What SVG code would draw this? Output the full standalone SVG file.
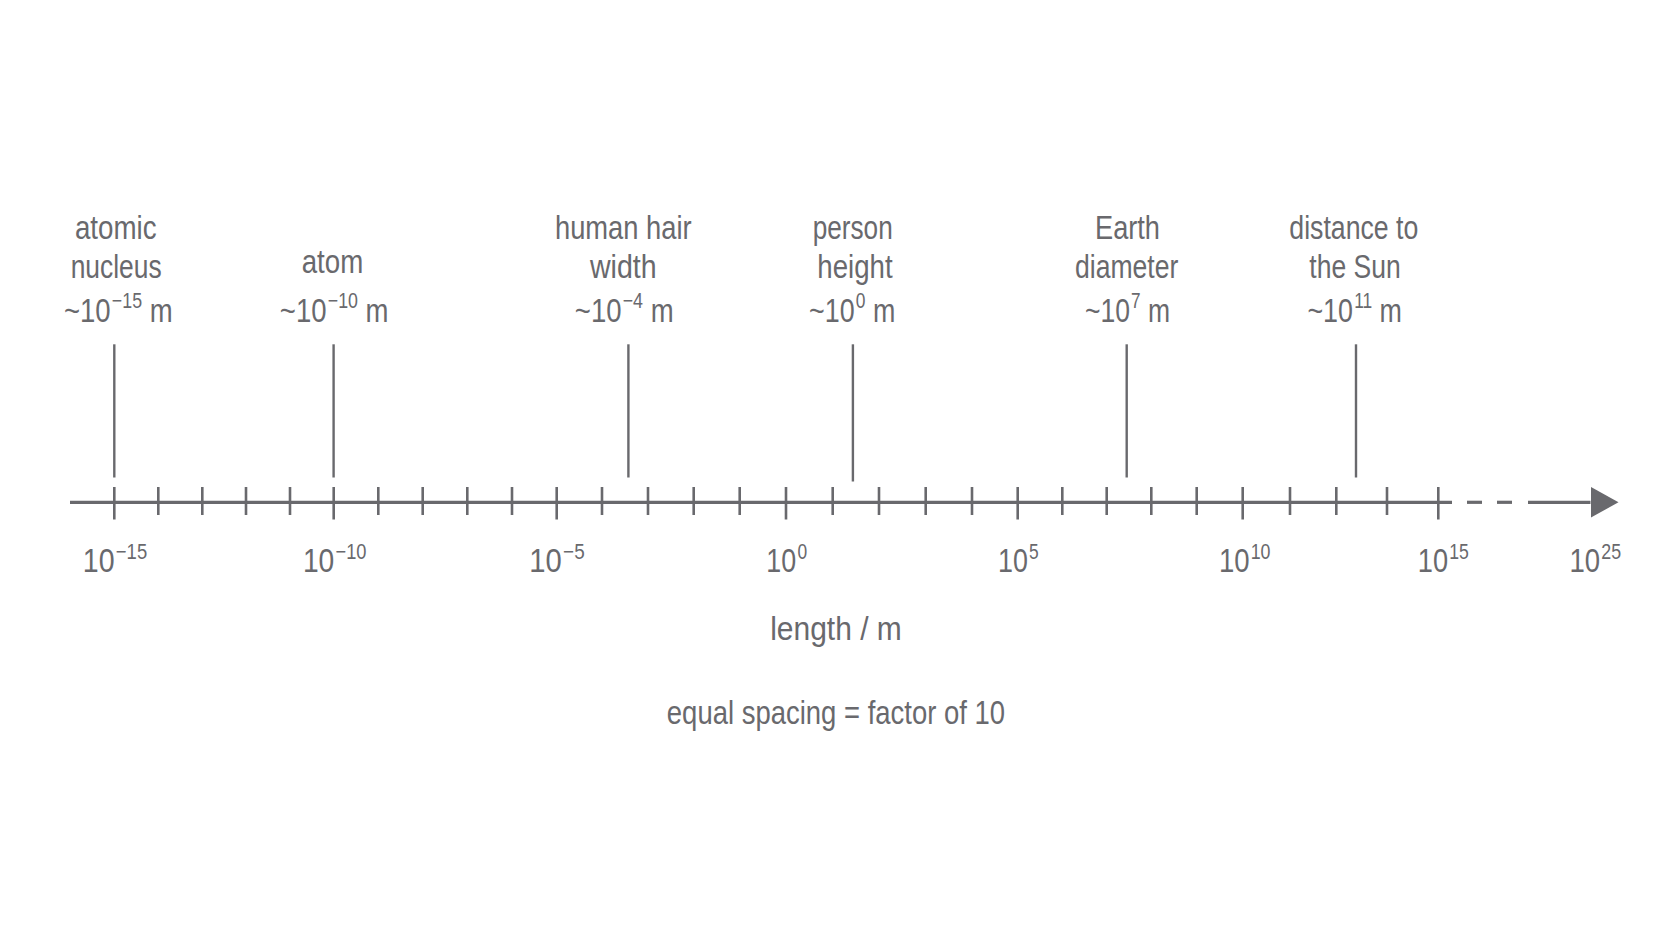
<svg xmlns="http://www.w3.org/2000/svg" width="1672" height="941" viewBox="0 0 1672 941">
<style>
.ax{stroke:#69696d;stroke-width:3.2;fill:none}
.tk{stroke:#69696d;stroke-width:2.6}
.mk{stroke:#69696d;stroke-width:2.4}
text{font-family:"Liberation Sans",Arial,sans-serif;font-size:34px;fill:#69696d;text-anchor:middle}
.sup{font-size:22px}
</style>
<defs>
<marker id="arrow" markerUnits="userSpaceOnUse" markerWidth="28" markerHeight="31" viewBox="0 0 28 31" refX="0" refY="15.5" orient="auto">
<path d="M0,0 L28,15.5 L0,31 Z" fill="#69696d"/>
</marker>
</defs>
<rect width="1672" height="941" fill="#ffffff"/>

<g id="axis">
<line class="ax" x1="70" y1="502.3" x2="1452" y2="502.3"/>
<line class="ax" x1="1467" y1="502.3" x2="1482" y2="502.3"/>
<line class="ax" x1="1497" y1="502.3" x2="1512" y2="502.3"/>
<line class="ax" x1="1528" y1="502.3" x2="1590.5" y2="502.3" marker-end="url(#arrow)"/>
</g>

<g id="ticks">
<g id="major-ticks">
<line class="tk" x1="114.3" y1="487" x2="114.3" y2="519.5"/>
<line class="tk" x1="333.7" y1="487" x2="333.7" y2="519.5"/>
<line class="tk" x1="556.7" y1="487" x2="556.7" y2="519.5"/>
<line class="tk" x1="786" y1="487" x2="786" y2="519.5"/>
<line class="tk" x1="1017.7" y1="487" x2="1017.7" y2="519.5"/>
<line class="tk" x1="1242.7" y1="487" x2="1242.7" y2="519.5"/>
<line class="tk" x1="1438.3" y1="487" x2="1438.3" y2="519.5"/>
</g>
<g id="minor-ticks">
<line class="tk" x1="158.3" y1="487" x2="158.3" y2="515"/>
<line class="tk" x1="202.3" y1="487" x2="202.3" y2="515"/>
<line class="tk" x1="246" y1="487" x2="246" y2="515"/>
<line class="tk" x1="290" y1="487" x2="290" y2="515"/>
<line class="tk" x1="378.3" y1="487" x2="378.3" y2="515"/>
<line class="tk" x1="422.7" y1="487" x2="422.7" y2="515"/>
<line class="tk" x1="467.3" y1="487" x2="467.3" y2="515"/>
<line class="tk" x1="512" y1="487" x2="512" y2="515"/>
<line class="tk" x1="602" y1="487" x2="602" y2="515"/>
<line class="tk" x1="648" y1="487" x2="648" y2="515"/>
<line class="tk" x1="693.7" y1="487" x2="693.7" y2="515"/>
<line class="tk" x1="739.7" y1="487" x2="739.7" y2="515"/>
<line class="tk" x1="832.7" y1="487" x2="832.7" y2="515"/>
<line class="tk" x1="879" y1="487" x2="879" y2="515"/>
<line class="tk" x1="925.7" y1="487" x2="925.7" y2="515"/>
<line class="tk" x1="972" y1="487" x2="972" y2="515"/>
<line class="tk" x1="1062.3" y1="487" x2="1062.3" y2="515"/>
<line class="tk" x1="1106.7" y1="487" x2="1106.7" y2="515"/>
<line class="tk" x1="1151.3" y1="487" x2="1151.3" y2="515"/>
<line class="tk" x1="1196.7" y1="487" x2="1196.7" y2="515"/>
<line class="tk" x1="1290" y1="487" x2="1290" y2="515"/>
<line class="tk" x1="1336.3" y1="487" x2="1336.3" y2="515"/>
<line class="tk" x1="1387" y1="487" x2="1387" y2="515"/>
</g>
</g>

<g id="tick-labels">
<text transform="translate(115,571.7) scale(0.84,1)">10<tspan class="sup" dx="1.5" dy="-12.5">−15</tspan></text>
<text transform="translate(334.7,571.7) scale(0.83,1)">10<tspan class="sup" dx="1.5" dy="-12.5">−10</tspan></text>
<text transform="translate(557,571.7) scale(0.86,1)">10<tspan class="sup" dx="1.5" dy="-12.5">−5</tspan></text>
<text transform="translate(786.7,571.7) scale(0.79,1)">10<tspan class="sup" dx="1.5" dy="-12.5">0</tspan></text>
<text transform="translate(1018.3,571.7) scale(0.79,1)">10<tspan class="sup" dx="1.5" dy="-12.5">5</tspan></text>
<text transform="translate(1244.7,571.7) scale(0.81,1)">10<tspan class="sup" dx="1.5" dy="-12.5">10</tspan></text>
<text transform="translate(1443.3,571.7) scale(0.8,1)">10<tspan class="sup" dx="1.5" dy="-12.5">15</tspan></text>
<text transform="translate(1595.3,571.7) scale(0.81,1)">10<tspan class="sup" dx="1.5" dy="-12.5">25</tspan></text>
</g>

<g id="connectors">
<line class="mk" x1="114.3" y1="344.3" x2="114.3" y2="477.5"/>
<line class="mk" x1="333.6" y1="344.3" x2="333.6" y2="477.5"/>
<line class="mk" x1="628.4" y1="344.3" x2="628.4" y2="477.5"/>
<line class="mk" x1="852.9" y1="344.3" x2="852.9" y2="481.5"/>
<line class="mk" x1="1126.7" y1="344.3" x2="1126.7" y2="477.5"/>
<line class="mk" x1="1356" y1="344.3" x2="1356" y2="477.5"/>
</g>

<g id="node-atomic-nucleus">
<text x="115.8" y="239.3" textLength="81.7" lengthAdjust="spacingAndGlyphs">atomic</text>
<text x="116.2" y="278.3" textLength="91" lengthAdjust="spacingAndGlyphs">nucleus</text>
<text transform="translate(118.3,321.7) scale(0.81,1)">~10<tspan class="sup" dx="1.5" dy="-13.4">−15</tspan><tspan dy="13.4"> m</tspan></text>
</g>

<g id="node-atom">
<text x="332.5" y="273" textLength="61.6" lengthAdjust="spacingAndGlyphs">atom</text>
<text transform="translate(334.2,321.7) scale(0.81,1)">~10<tspan class="sup" dx="1.5" dy="-13.4">−10</tspan><tspan dy="13.4"> m</tspan></text>
</g>

<g id="node-human-hair">
<text x="623.3" y="239.3" textLength="136.7" lengthAdjust="spacingAndGlyphs">human hair</text>
<text x="623.3" y="278.3" textLength="66.7" lengthAdjust="spacingAndGlyphs">width</text>
<text transform="translate(624.2,321.7) scale(0.81,1)">~10<tspan class="sup" dx="1.5" dy="-13.4">−4</tspan><tspan dy="13.4"> m</tspan></text>
</g>

<g id="node-person">
<text x="852.7" y="239.3" textLength="80" lengthAdjust="spacingAndGlyphs">person</text>
<text x="855" y="278.3" textLength="75.3" lengthAdjust="spacingAndGlyphs">height</text>
<text transform="translate(852.2,321.7) scale(0.79,1)">~10<tspan class="sup" dx="1.5" dy="-13.4">0</tspan><tspan dy="13.4"> m</tspan></text>
</g>

<g id="node-earth">
<text x="1127.5" y="239.3" textLength="65" lengthAdjust="spacingAndGlyphs">Earth</text>
<text x="1126.7" y="278.3" textLength="103.3" lengthAdjust="spacingAndGlyphs">diameter</text>
<text transform="translate(1127.5,321.7) scale(0.78,1)">~10<tspan class="sup" dx="1.5" dy="-13.4">7</tspan><tspan dy="13.4"> m</tspan></text>
</g>

<g id="node-sun">
<text x="1353.8" y="239.3" textLength="129" lengthAdjust="spacingAndGlyphs">distance to</text>
<text x="1355" y="278.3" textLength="91.4" lengthAdjust="spacingAndGlyphs">the Sun</text>
<text transform="translate(1354.7,321.7) scale(0.79,1)">~10<tspan class="sup" dx="1.5" dy="-13.4">11</tspan><tspan dy="13.4"> m</tspan></text>
</g>

<g id="axis-title">
<text x="836" y="640" textLength="131.7" lengthAdjust="spacingAndGlyphs">length / m</text>
<text x="836" y="724" textLength="338.3" lengthAdjust="spacingAndGlyphs">equal spacing = factor of 10</text>
</g>
</svg>
